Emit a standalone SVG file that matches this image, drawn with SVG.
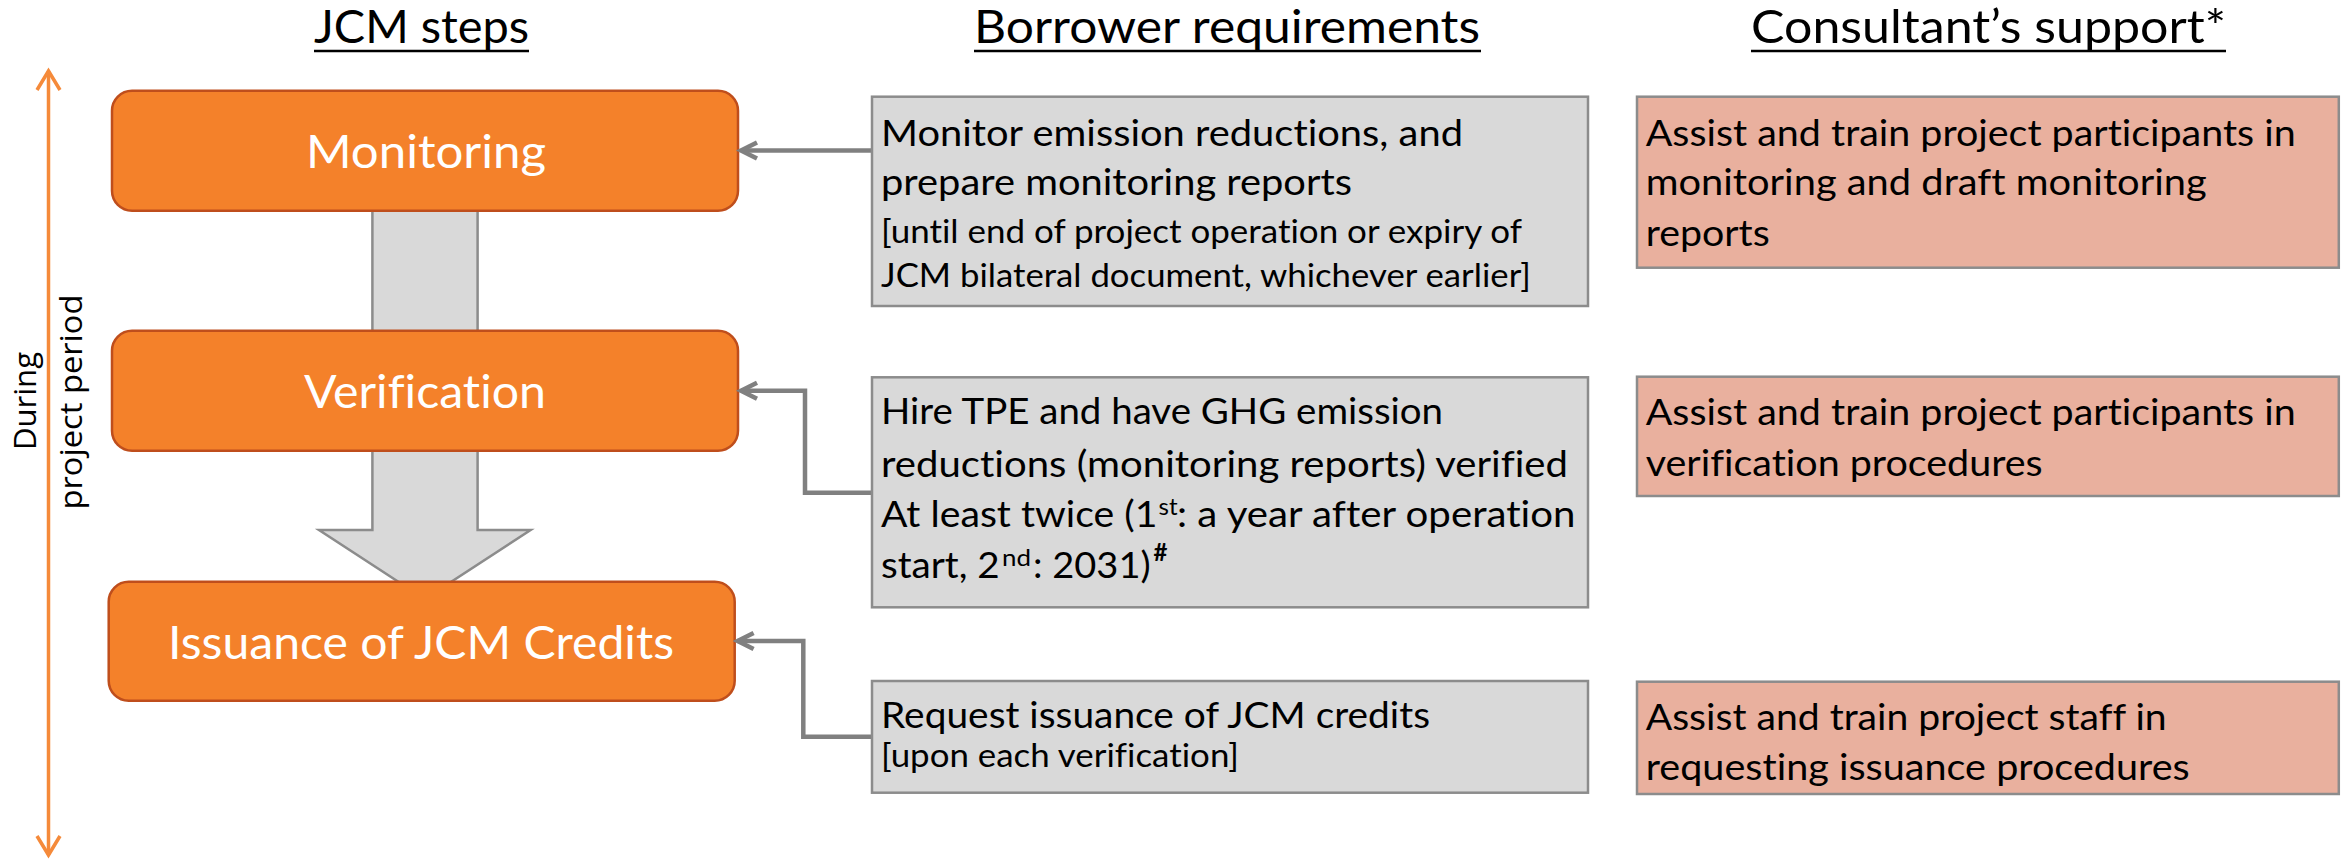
<svg xmlns="http://www.w3.org/2000/svg" width="2346" height="859" viewBox="0 0 2346 859">
<style>
text{font-family:Lato,"Liberation Sans",sans-serif;fill:#000;font-variant-ligatures:none}
.title{font-size:46px}
.ul{stroke:#000;stroke-width:2.5}
.step{fill:#F4812A;stroke:#BF4E1C;stroke-width:2.5}
.steptxt{font-size:46px;fill:#fff;text-anchor:middle}
.req{fill:#D9D9D9;stroke:#8C8C8C;stroke-width:2.5}
.sup{fill:#E9B09E;stroke:#8C8C8C;stroke-width:2.5}
.t{font-size:37px}
.s{font-size:32px}
.sp{font-size:24px}
.conn{fill:none;stroke:#808080;stroke-width:4.5}
.vt{font-family:"Open Sans","Noto Sans",sans-serif;font-size:31px;text-anchor:middle}
</style>
<defs>
<marker id="ga" markerUnits="userSpaceOnUse" orient="auto" refX="0" refY="0" overflow="visible">
<path d="M-16,-8 L0,0 L-16,8" fill="none" stroke="#808080" stroke-width="4.5" stroke-linejoin="miter"/>
</marker>
<marker id="oa" markerUnits="userSpaceOnUse" orient="auto-start-reverse" refX="0" refY="0" overflow="visible">
<path d="M-19,-11.5 L0,0 L-19,11.5" fill="none" stroke="#F58A3A" stroke-width="3.5"/>
</marker>
</defs>

<g id="headers">
<text class="title" x="314" y="43" textLength="215" lengthAdjust="spacingAndGlyphs">JCM steps</text>
<line class="ul" x1="314" y1="51" x2="529" y2="51"/>
<text class="title" x="974" y="43" textLength="506" lengthAdjust="spacingAndGlyphs">Borrower requirements</text>
<line class="ul" x1="974" y1="51" x2="1481" y2="51"/>
<text class="title" x="1751" y="43" textLength="475" lengthAdjust="spacingAndGlyphs">Consultant’s support*</text>
<line class="ul" x1="1751" y1="51" x2="2226" y2="51"/>
</g>

<g id="timeline">
<line x1="48.5" y1="71" x2="48.5" y2="855" stroke="#F58A3A" stroke-width="3.5" marker-start="url(#oa)" marker-end="url(#oa)"/>
<text class="vt" transform="translate(36,401) rotate(-90)" textLength="98" lengthAdjust="spacingAndGlyphs">During</text>
<text class="vt" transform="translate(81.5,402) rotate(-90)" textLength="215" lengthAdjust="spacingAndGlyphs">project period</text>
</g>

<g id="flow-arrow">
<path d="M372.4,200 L477.6,200 L477.6,530 L530.6,530 L424.8,599 L319,530 L372.4,530 Z" fill="#D9D9D9" stroke="#8C8C8C" stroke-width="2.5"/>
</g>

<g id="step-monitoring">
<rect class="step" x="112" y="90.7" width="626" height="120" rx="20"/>
<text class="steptxt" x="426" y="168" textLength="240" lengthAdjust="spacingAndGlyphs">Monitoring</text>
</g>
<g id="step-verification">
<rect class="step" x="112" y="330.7" width="626" height="120" rx="20"/>
<text class="steptxt" x="425" y="408" textLength="242" lengthAdjust="spacingAndGlyphs">Verification</text>
</g>
<g id="step-issuance">
<rect class="step" x="108.7" y="581.7" width="626" height="119" rx="20"/>
<text class="steptxt" x="421" y="659" textLength="506" lengthAdjust="spacingAndGlyphs">Issuance of JCM Credits</text>
</g>

<g id="connectors">
<path class="conn" d="M872,150.5 L741,150.5" marker-end="url(#ga)"/>
<path class="conn" d="M872,492.7 L805,492.7 L805,390.7 L741,390.7" marker-end="url(#ga)"/>
<path class="conn" d="M872,736.7 L803.3,736.7 L803.3,641 L737.6,641" marker-end="url(#ga)"/>
</g>

<g id="req-monitoring">
<rect class="req" x="872" y="96.7" width="716" height="209.3"/>
<text class="t" x="881" y="145.7" textLength="582" lengthAdjust="spacingAndGlyphs">Monitor emission reductions, and</text>
<text class="t" x="881" y="195" textLength="471" lengthAdjust="spacingAndGlyphs">prepare monitoring reports</text>
<text class="s" x="881" y="243" textLength="641" lengthAdjust="spacingAndGlyphs">[until end of project operation or expiry of</text>
<text class="s" x="881" y="287" textLength="650" lengthAdjust="spacingAndGlyphs">JCM bilateral document, whichever earlier]</text>
</g>

<g id="req-verification">
<rect class="req" x="872" y="377.3" width="716" height="230"/>
<text class="t" x="881" y="424.3" textLength="562" lengthAdjust="spacingAndGlyphs">Hire TPE and have GHG emission</text>
<text class="t" x="881" y="476.7" textLength="687" lengthAdjust="spacingAndGlyphs">reductions (monitoring reports) verified</text>
<text class="t" y="527.3"><tspan x="881" textLength="276.5" lengthAdjust="spacingAndGlyphs">At least twice (1</tspan><tspan class="sp" x="1158.5" y="515" textLength="19" lengthAdjust="spacingAndGlyphs">st</tspan><tspan x="1177" y="527.3" textLength="398.5" lengthAdjust="spacingAndGlyphs">: a year after operation</tspan></text>
<text class="t" y="578.3"><tspan x="881" textLength="118.7" lengthAdjust="spacingAndGlyphs">start, 2</tspan><tspan class="sp" x="1002" y="566" textLength="29" lengthAdjust="spacingAndGlyphs">nd</tspan><tspan x="1033" y="578.3" textLength="117.6" lengthAdjust="spacingAndGlyphs">: 2031)</tspan><tspan class="sp" x="1153.5" y="561" font-weight="bold">#</tspan></text>
</g>

<g id="req-issuance">
<rect class="req" x="872" y="681" width="716" height="111.7"/>
<text class="t" x="881" y="727.7" textLength="549" lengthAdjust="spacingAndGlyphs">Request issuance of JCM credits</text>
<text class="s" x="881" y="767" textLength="358" lengthAdjust="spacingAndGlyphs">[upon each verification]</text>
</g>

<g id="support-monitoring">
<rect class="sup" x="1637" y="96.7" width="701.8" height="171"/>
<text class="t" x="1645.7" y="145.7" textLength="650" lengthAdjust="spacingAndGlyphs">Assist and train project participants in</text>
<text class="t" x="1645.7" y="195" textLength="561" lengthAdjust="spacingAndGlyphs">monitoring and draft monitoring</text>
<text class="t" x="1645.7" y="246" textLength="124" lengthAdjust="spacingAndGlyphs">reports</text>
</g>

<g id="support-verification">
<rect class="sup" x="1637" y="376.7" width="701.8" height="119.3"/>
<text class="t" x="1645.7" y="425" textLength="650" lengthAdjust="spacingAndGlyphs">Assist and train project participants in</text>
<text class="t" x="1645.7" y="476" textLength="397" lengthAdjust="spacingAndGlyphs">verification procedures</text>
</g>

<g id="support-issuance">
<rect class="sup" x="1637" y="681.7" width="701.8" height="112.3"/>
<text class="t" x="1645.7" y="730" textLength="521" lengthAdjust="spacingAndGlyphs">Assist and train project staff in</text>
<text class="t" x="1645.7" y="780" textLength="544" lengthAdjust="spacingAndGlyphs">requesting issuance procedures</text>
</g>
</svg>
